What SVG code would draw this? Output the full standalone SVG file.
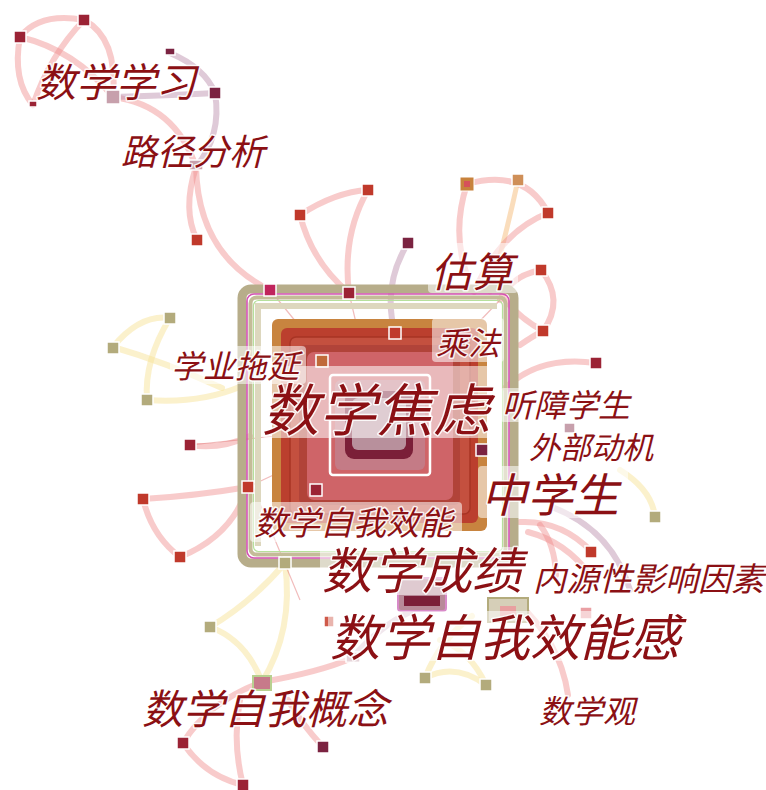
<svg xmlns="http://www.w3.org/2000/svg" width="766" height="790" viewBox="0 0 766 790">
<style>
.e{fill:none;stroke:#f08c8c;stroke-opacity:.45;stroke-width:6;stroke-linecap:round}
.ey{fill:none;stroke:#f7e49a;stroke-opacity:.5;stroke-width:6;stroke-linecap:round}
.ep{fill:none;stroke:#b98aa8;stroke-opacity:.45;stroke-width:6;stroke-linecap:round}
.eo{fill:none;stroke:#f5b36a;stroke-opacity:.45;stroke-width:5;stroke-linecap:round}
.et{fill:none;stroke:#e06a6a;stroke-opacity:.45;stroke-width:1.2}
.n{stroke:#fff;stroke-width:1.5}
.r{fill:#c0392b}.d{fill:#9b2335}.m{fill:#7b2341}.o{fill:#b3ab7c}.g{fill:#c7a0ac}
.bg{fill:#fff;fill-opacity:.55}
.t{font-family:"Noto Sans CJK SC","Noto Sans",sans-serif;font-style:italic;fill:#8b1014;stroke:#fff;stroke-width:3;stroke-opacity:.85;paint-order:stroke;stroke-linejoin:round}
</style>

<g id="edges">
<path class="e" d="M20,37 Q40,12 84,20"/>
<path class="e" d="M84,20 Q118,38 113,97"/>
<path class="e" d="M20,37 Q12,80 33,105"/>
<path class="e" d="M84,20 Q50,55 33,105"/>
<path class="e" d="M20,37 Q75,50 113,97"/>
<path class="e" d="M113,97 Q175,105 196,167"/>
<path class="ep" d="M113,97 Q180,95 215,93"/>
<path class="ep" d="M170,53 Q205,68 215,93"/>
<path class="ep" d="M215,93 Q222,135 196,167"/>
<path class="e" d="M196,167 Q182,210 197,240"/>
<path class="e" d="M196,167 Q198,255 270,290"/>
<path class="e" d="M300,215 Q335,192 368,190"/>
<path class="e" d="M300,215 Q312,262 349,293"/>
<path class="e" d="M368,190 Q342,235 349,293"/>
<path class="ep" d="M408,243 Q382,285 395,333"/>
<path class="e" d="M467,184 Q525,168 548,213"/>
<path class="eo" d="M518,180 Q505,240 490,292"/>
<path class="e" d="M548,213 Q500,232 474,292"/>
<path class="e" d="M467,184 Q452,230 466,272"/>
<path class="e" d="M541,270 Q565,300 543,331"/>
<path class="e" d="M541,270 Q512,275 500,300"/>
<path class="e" d="M543,331 Q520,318 505,300"/>
<path class="e" d="M520,345 Q533,336 543,331"/>
<path class="e" d="M596,363 Q540,355 505,388"/>
<path class="ey" d="M113,347 Q140,314 170,318"/>
<path class="ey" d="M170,318 Q144,360 147,400"/>
<path class="ey" d="M113,347 Q165,362 222,388"/>
<path class="ey" d="M147,400 Q200,404 242,386"/>
<path class="e" d="M190,445 Q220,450 250,436"/>
<path class="e" d="M143,499 Q195,496 248,487"/>
<path class="e" d="M143,499 Q152,536 180,557"/>
<path class="e" d="M180,557 Q232,536 248,487"/>
<path class="ey" d="M285,563 Q252,602 210,627"/>
<path class="ey" d="M210,627 Q246,640 262,682"/>
<path class="ey" d="M285,563 Q294,630 262,682"/>
<path class="e" d="M262,682 Q208,702 183,743"/>
<path class="e" d="M183,743 Q205,776 243,785"/>
<path class="e" d="M243,785 Q232,742 240,700"/>
<path class="e" d="M323,747 Q300,722 288,700"/>
<path class="e" d="M262,682 Q320,672 352,658"/>
<path class="ep" d="M352,658 Q380,626 410,612"/>
<path class="ey" d="M425,678 Q440,640 472,616"/>
<path class="ey" d="M486,685 Q470,650 440,640"/>
<path class="ey" d="M425,678 Q455,662 486,685"/>
<path class="e" d="M515,600 Q560,640 568,695"/>
<path class="e" d="M520,522 Q562,520 592,552"/>
<path class="e" d="M528,532 Q566,542 590,575"/>
<path class="e" d="M540,525 Q555,545 556,575"/>
<path class="ey" d="M620,470 Q652,490 655,517"/>
<path class="ep" d="M552,507 Q612,530 630,590"/>
<path class="et" d="M270,290 L380,425 M349,293 L380,425 M395,333 L380,425 M248,487 L380,425 M316,490 L380,425 M482,450 L380,425 M253,487 L300,600 M190,445 L380,425 M500,300 L380,425"/>
</g>

<g id="n-math-anxiety">
<rect x="242" y="289" width="272" height="274" rx="9" fill="none" stroke="#b7ad8a" stroke-width="9"/>
<rect x="247" y="294" width="262" height="264" rx="7" fill="none" stroke="#d452b4" stroke-width="1.6"/>
<rect x="250.5" y="297.5" width="255" height="257" rx="6" fill="none" stroke="#c4bc98" stroke-width="4"/>
<rect x="253.5" y="300.5" width="249" height="251" rx="5" fill="none" stroke="#b6e09c" stroke-width="1.2"/>
<path d="M258,546 V306 H497" fill="none" stroke="#ddd7be" stroke-width="6"/>
<rect x="272" y="319" width="215" height="212" rx="6" fill="#c8843f"/>
<rect x="281" y="328" width="197" height="195" rx="6" fill="#bb3f2e"/>
<rect x="290" y="337" width="180" height="177" rx="6" fill="#c4503f" stroke="#a83424" stroke-width="1.5"/>
<rect x="299" y="345" width="161" height="160" rx="6" fill="#8f2a2e" fill-opacity=".35"/>
<rect x="307" y="352" width="146" height="148" rx="7" fill="#cf6468"/>
<rect x="330" y="375" width="100" height="100" rx="3" fill="none" stroke="#fff" stroke-width="2.5"/>
<rect x="335" y="380" width="90" height="90" rx="6" fill="#c47b86"/>
<rect x="345" y="391" width="68" height="68" rx="9" fill="#7b1f38"/>
<rect x="352" y="398" width="54" height="52" rx="6" fill="#b8909c"/>
</g>

<g id="nodes">
<g id="n1"><rect class="n d" x="14" y="31" width="12" height="12"/></g>
<g id="n2"><rect class="n d" x="78" y="14" width="12" height="12"/></g>
<g id="n3"><rect class="n m" x="165" y="48" width="10" height="7"/></g>
<g id="n4"><rect class="n m" x="209" y="87" width="12" height="12"/></g>
<g id="n5"><rect class="n d" x="29" y="101" width="8" height="6"/></g>
<g id="n6"><rect class="n g" x="106" y="90" width="14" height="14"/></g>
<g id="n7"><rect class="n g" x="189" y="160" width="14" height="10"/></g>
<g id="n8"><rect class="n r" x="191" y="234" width="12" height="12"/></g>
<g id="n9"><rect class="n" fill="#c0245c" x="264" y="284" width="12" height="12"/></g>
<g id="n10"><rect class="n r" x="294" y="209" width="12" height="12"/></g>
<g id="n11"><rect class="n r" x="362" y="184" width="12" height="12"/></g>
<g id="n12"><rect class="n d" x="343" y="287" width="12" height="12"/></g>
<g id="n13"><rect class="n m" x="402" y="237" width="12" height="12"/></g>
<g id="n14"><rect x="460" y="177" width="14" height="14" fill="#c8823c" stroke="#fff" stroke-width="1"/><rect x="464" y="181" width="6" height="6" fill="#d6505a"/></g>
<g id="n15"><rect class="n" fill="#cf8f58" x="512" y="174" width="12" height="12"/></g>
<g id="n16"><rect class="n r" x="542" y="207" width="12" height="12"/></g>
<g id="n17"><rect class="n r" x="535" y="264" width="12" height="12"/></g>
<g id="n18"><rect class="n r" x="537" y="325" width="12" height="12"/></g>
<g id="n19"><rect class="n r" x="389" y="327" width="12" height="12"/></g>
<g id="n20"><rect class="n d" x="590" y="357" width="12" height="12"/></g>
<g id="n21"><rect class="n m" x="476" y="444" width="12" height="12"/></g>
<g id="n22"><rect class="n" fill="#c06a3a" x="316" y="355" width="12" height="12"/></g>
<g id="n23"><rect class="n o" x="164" y="312" width="12" height="12"/></g>
<g id="n24"><rect class="n o" x="107" y="342" width="12" height="12"/></g>
<g id="n25"><rect class="n o" x="141" y="394" width="12" height="12"/></g>
<g id="n26"><rect class="n d" x="184" y="439" width="12" height="12"/></g>
<g id="n27"><rect class="n r" x="137" y="493" width="12" height="12"/></g>
<g id="n28"><rect class="n r" x="174" y="551" width="12" height="12"/></g>
<g id="n29"><rect class="n r" x="242" y="481" width="12" height="12"/></g>
<g id="n30"><rect class="n d" x="310" y="484" width="12" height="12"/></g>
<g id="n31"><rect class="n o" x="279" y="557" width="12" height="12"/></g>
<g id="n32"><rect class="n o" x="649" y="511" width="12" height="12"/></g>
<g id="n33"><rect class="n r" x="585" y="546" width="12" height="12"/></g>
<g id="n34"><rect class="n g" x="564" y="423" width="11" height="10"/></g>
<g id="n35"><rect class="n o" x="204" y="621" width="12" height="12"/></g>
<g id="n36"><rect x="253" y="676" width="18" height="14" fill="#c77a8a" stroke="#b8d090" stroke-width="2"/></g>
<g id="n37"><rect class="n d" x="177" y="737" width="12" height="12"/></g>
<g id="n38"><rect class="n m" x="317" y="741" width="12" height="12"/></g>
<g id="n39"><rect class="n d" x="237" y="779" width="12" height="12"/></g>
<g id="n40"><rect class="n" fill="#cf5a4a" x="324" y="616" width="10" height="11"/></g>
<g id="n41"><rect class="n g" x="346" y="652" width="14" height="10"/></g>
<g id="n42"><rect class="n o" x="419" y="672" width="12" height="12"/></g>
<g id="n43"><rect class="n o" x="480" y="679" width="12" height="12"/></g>
<g id="n44"><rect class="n" fill="#eaa0a4" x="580" y="607" width="12" height="12"/></g>
<g id="n45"><rect x="398" y="578" width="48" height="33" rx="3" fill="#b88a98" stroke="#d88ac8" stroke-width="2"/><rect x="404" y="596" width="36" height="10" fill="#7b1f38"/></g>
<g id="n46"><rect x="488" y="598" width="40" height="24" fill="#d6cfb8" stroke="#b3ab7c" stroke-width="2"/><rect x="500" y="606" width="16" height="10" fill="#e8a0a0"/></g>
</g>

<g id="labels">
<rect class="bg" x="170" y="346" width="136" height="38" rx="4"/>
<rect class="bg" x="262" y="366" width="240" height="72" rx="4"/>
<rect class="bg" x="432" y="318" width="72" height="44" rx="4"/>
<rect class="bg" x="428" y="243" width="90" height="50" rx="4"/>
<rect class="bg" x="500" y="388" width="134" height="34" rx="4"/>
<rect class="bg" x="478" y="466" width="150" height="52" rx="4"/>
<rect class="bg" x="250" y="502" width="212" height="40" rx="4"/>
<rect class="bg" x="320" y="547" width="210" height="48" rx="4"/>
<rect class="bg" x="328" y="611" width="354" height="50" rx="4"/>
<text class="t" x="36" y="97" font-size="40">数学学习</text>
<text class="t" x="121" y="165" font-size="36">路径分析</text>
<text class="t" x="431" y="287" font-size="41">估算</text>
<text class="t" x="436" y="355" font-size="32">乘法</text>
<text class="t" x="171" y="378" font-size="32">学业拖延</text>
<text class="t" x="262" y="431" font-size="57">数学焦虑</text>
<text class="t" x="502" y="417" font-size="32">听障学生</text>
<text class="t" x="529" y="459" font-size="31">外部动机</text>
<text class="t" x="481" y="512" font-size="46">中学生</text>
<text class="t" x="254" y="535" font-size="33">数学自我效能</text>
<text class="t" x="322" y="589" font-size="50">数学成绩</text>
<text class="t" x="533" y="591" font-size="33">内源性影响因素</text>
<text class="t" x="330" y="656" font-size="50">数学自我效能感</text>
<text class="t" x="142" y="724" font-size="41">数学自我概念</text>
<text class="t" x="539" y="723" font-size="32">数学观</text>
</g>
</svg>
